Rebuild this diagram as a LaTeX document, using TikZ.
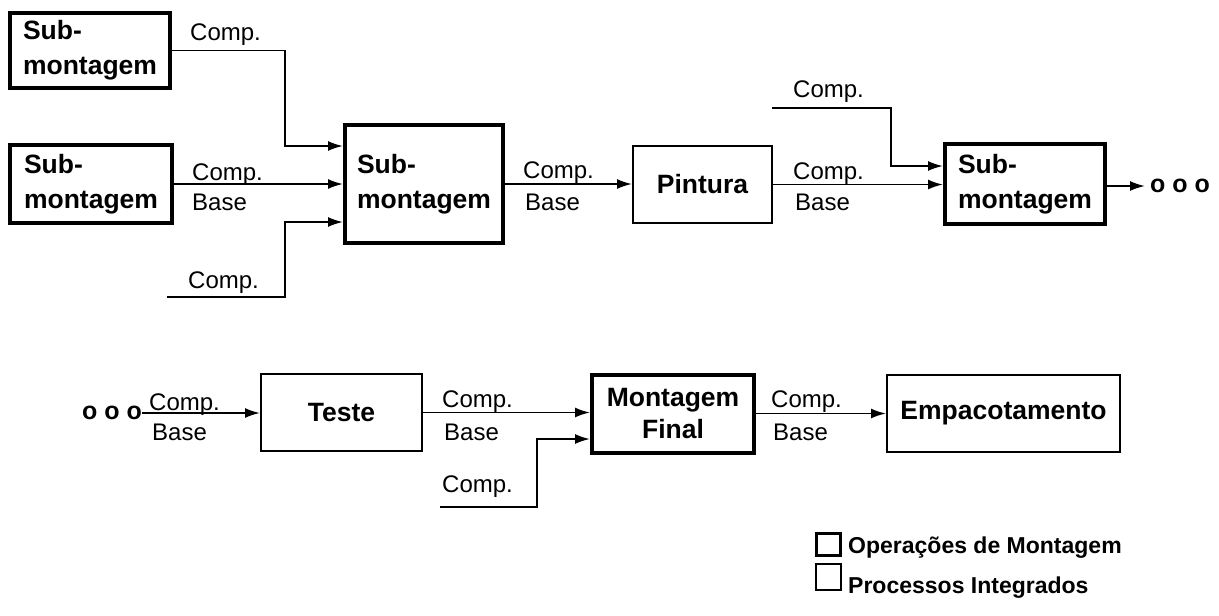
\documentclass[tikz,border=0pt]{standalone}
\usepackage{fontspec}
\setmainfont{Liberation Sans}
\usetikzlibrary{arrows.meta}
\tikzset{
  box/.style={draw, line width=2pt, inner sep=0pt, align=center,
    font=\bfseries\fontsize{26.5}{35}\selectfont},
  thickbox/.style={box, line width=4pt},
  lbl/.style={inner sep=0pt, anchor=base west, font=\fontsize{24}{28}\selectfont},
  dots/.style={inner sep=0pt, font=\bfseries\fontsize{25}{28}\selectfont},
  conn/.style={line width=1.9pt},
  arr/.style={conn, -{Latex[length=15pt,width=10pt]}},
  legtext/.style={inner sep=0pt, anchor=base west, font=\bfseries\fontsize{23}{28}\selectfont},
}
\begin{document}
\begin{tikzpicture}[x=1pt,y=-1pt]
\useasboundingbox (0,0) rectangle (1219,616);
% top row
\node[thickbox, minimum width=160pt, minimum height=75pt, align=left] (sm1) at (90,50.5) {Sub-\\montagem};
\node[thickbox, minimum width=162pt, minimum height=78pt, align=left] (sm2) at (91,184) {Sub-\\montagem};
\node[thickbox, minimum width=158pt, minimum height=118pt, align=left] (sm3) at (424,184) {Sub-\\montagem};
\node[box, minimum width=139pt, minimum height=77pt] (pint) at (702.5,184.5) {Pintura};
\node[thickbox, minimum width=160pt, minimum height=80pt, align=left] (sm4) at (1025,184) {Sub-\\montagem};
\node[dots, anchor=west] (dots1) at (1150,186) {o o o};
% top row connectors
\coordinate (j1) at (285,146);
\draw[arr] (sm1.east) -| (j1) -- (sm3.west |- j1);
\draw[arr] (sm2.east) -- (sm3.west);
\coordinate (s1) at (167,297);
\coordinate (j2) at (285,222);
\draw[arr] (s1) -| (j2) -- (sm3.west |- j2);
\draw[arr] (sm3.east) -- (sm3.east -| pint.west);
\draw[arr] (pint.east) -- (pint.east -| sm4.west);
\coordinate (s2) at (772,108);
\coordinate (j3) at (891,166);
\draw[arr] (s2) -| (j3) -- (sm4.west |- j3);
\coordinate (e1) at (1145,186);
\draw[arr] (sm4.east |- e1) -- (e1);
% top labels
\node[lbl] (l1) at (190,40) {Comp.};
\node[lbl] (l2) at (192,180) {Comp.};
\node[lbl] (l3) at (192,210) {Base};
\node[lbl] (l4) at (188,288) {Comp.};
\node[lbl] (l5) at (523,178) {Comp.};
\node[lbl] (l6) at (525,210) {Base};
\node[lbl] (l7) at (793,97) {Comp.};
\node[lbl] (l8) at (793,179) {Comp.};
\node[lbl] (l9) at (795,210) {Base};
% bottom row
\node[dots, anchor=west] (dots2) at (82,413) {o o o};
\node[box, minimum width=161pt, minimum height=77pt] (teste) at (341.5,412.5) {Teste};
\node[thickbox, minimum width=162pt, minimum height=78pt, font=\bfseries\fontsize{26.5}{32}\selectfont] (mf) at (673,414) {Montagem\\Final};
\node[box, minimum width=233pt, minimum height=77pt] (emp) at (1003.5,413.5) {Empacotamento};
\coordinate (s0) at (142,413);
\draw[arr] (s0) -- (s0 -| teste.west);
\draw[arr] (teste.east) -- (teste.east -| mf.west);
\coordinate (s3) at (440,507);
\coordinate (j4) at (537,439);
\draw[arr] (s3) -| (j4) -- (mf.west |- j4);
\draw[arr] (mf.east |- emp.west) -- (emp.west);
% bottom labels
\node[lbl] (b1) at (149,410) {Comp.};
\node[lbl] (b2) at (152,440) {Base};
\node[lbl] (b3) at (442,407) {Comp.};
\node[lbl] (b4) at (444,440) {Base};
\node[lbl] (b5) at (442,492) {Comp.};
\node[lbl] (b6) at (771,407) {Comp.};
\node[lbl] (b7) at (773,440) {Base};
% legend
\node[draw, line width=3.5pt, minimum width=24pt, minimum height=22pt, inner sep=0pt] (lg1) at (828.5,544.5) {};
\node[draw, line width=1.8pt, minimum width=25pt, minimum height=26pt, inner sep=0pt] (lg2) at (828.5,577) {};
\node[legtext] (t1) at (848,553) {Operações de Montagem};
\node[legtext] (t2) at (848,593) {Processos Integrados};
\end{tikzpicture}
\end{document}
